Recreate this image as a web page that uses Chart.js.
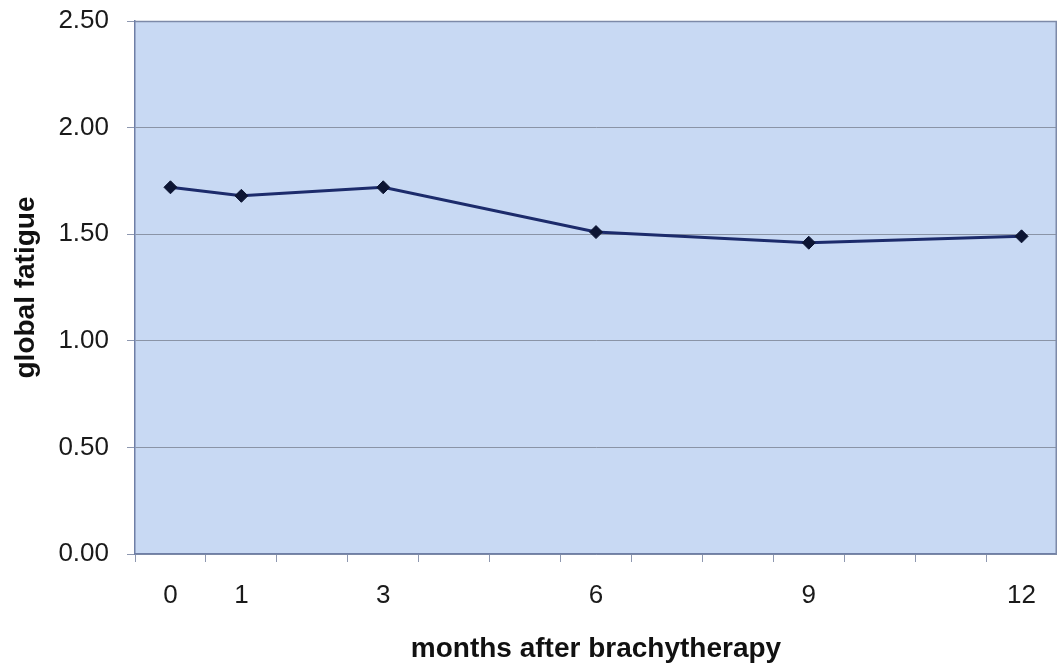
<!DOCTYPE html>
<html>
<head>
<meta charset="utf-8">
<script src="https://cdn.jsdelivr.net/npm/chart.js@4/dist/chart.umd.min.js"></script>
<style>
  html, body { margin: 0; padding: 0; background: #ffffff; }
  #wrap { width: 1057px; height: 666px; }
</style>
</head>
<body>
<div id="wrap"><canvas id="c" width="1057" height="666"></canvas></div>
<script>
// Months after brachytherapy at which fatigue was measured
const months = [0, 1, 3, 6, 9, 12];
// Mean global fatigue score at each month
const fatigue = [1.72, 1.68, 1.72, 1.51, 1.46, 1.49];
// Month labels shown under the axis
const monthLabels = ['0', '1', '3', '6', '9', '12'];
// Y axis tick values
const yTicks = [0, 0.5, 1, 1.5, 2, 2.5];

const FONT = '"Liberation Sans", Arial, sans-serif';

// Light blue plot area with a thin frame on the top and right
const plotBg = {
  id: 'plotBg',
  beforeDraw(chart) {
    const { ctx, chartArea: a } = chart;
    ctx.save();
    ctx.fillStyle = '#c8d9f3';
    ctx.fillRect(a.left, a.top, a.right - a.left, a.bottom - a.top);
    ctx.restore();
  },
  afterDraw(chart) {
    const { ctx, chartArea: a } = chart;
    ctx.save();
    ctx.strokeStyle = '#7d8aa8';
    ctx.lineWidth = 1.5;
    ctx.beginPath();
    ctx.moveTo(a.left, a.top + 0.5);
    ctx.lineTo(a.right - 0.75, a.top + 0.5);
    ctx.lineTo(a.right - 0.75, a.bottom);
    ctx.stroke();
    ctx.restore();
  }
};

const points = months.map((m, i) => ({ x: m, y: fatigue[i] }));

new Chart(document.getElementById('c'), {
  type: 'line',
  data: {
    datasets: [{
      data: points,
      borderColor: '#1c2b6b',
      borderWidth: 3,
      pointStyle: 'rectRot',
      pointRadius: 6.5,
      pointBackgroundColor: '#0d1533',
      pointBorderColor: '#0d1533',
      pointBorderWidth: 1,
      tension: 0,
      fill: false
    }]
  },
  options: {
    responsive: false,
    animation: false,
    devicePixelRatio: 1,
    layout: { autoPadding: false, padding: { top: 21, right: 0, left: 0, bottom: 0 } },
    plugins: { legend: { display: false }, tooltip: { enabled: false } },
    scales: {
      x: {
        type: 'linear',
        min: -0.5,
        max: 12.5,
        // tick marks fall between months, labels sit on the months
        afterBuildTicks(axis) {
          const t = [];
          for (let v = -0.5; v <= 12.5; v += 0.5) t.push({ value: v });
          axis.ticks = t;
        },
        afterFit(axis) { axis.height = 112; },
        ticks: {
          autoSkip: false,
          maxRotation: 0,
          minRotation: 0,
          padding: 0,
          color: '#1a1a1a',
          font: { family: FONT, size: 26, lineHeight: 2.6 },
          callback(v) {
            const i = months.indexOf(v);
            return i >= 0 ? monthLabels[i] : '';
          }
        },
        grid: {
          drawOnChartArea: false,
          tickLength: 8,
          tickWidth: 1,
          tickColor(ctx) {
            const v = ctx.tick ? ctx.tick.value : 0;
            return Number.isInteger(v) ? 'rgba(0,0,0,0)' : '#8e98b0';
          }
        },
        border: { color: '#6f7fa6', width: 1.5 },
        title: {
          display: true,
          text: 'months after brachytherapy',
          color: '#111111',
          font: { family: FONT, size: 28, weight: 'bold' },
          padding: { top: 0, bottom: 0 }
        }
      },
      y: {
        min: 0,
        max: 2.5,
        afterBuildTicks(axis) { axis.ticks = yTicks.map(v => ({ value: v })); },
        afterFit(axis) { axis.width = 135; },
        ticks: {
          padding: 18,
          color: '#1a1a1a',
          font: { family: FONT, size: 26, lineHeight: 0.2 },
          callback(v) { return Number(v).toFixed(2); }
        },
        grid: {
          color: '#8a94a6',
          lineWidth: 1,
          tickLength: 8,
          tickColor: '#8e98b0'
        },
        border: { color: '#6f7fa6', width: 1.5 },
        title: {
          display: true,
          text: 'global fatigue',
          color: '#111111',
          font: { family: FONT, size: 28, weight: 'bold' },
          padding: { top: 9, bottom: 0 }
        }
      }
    }
  },
  plugins: [plotBg]
});
</script>
</body>
</html>
